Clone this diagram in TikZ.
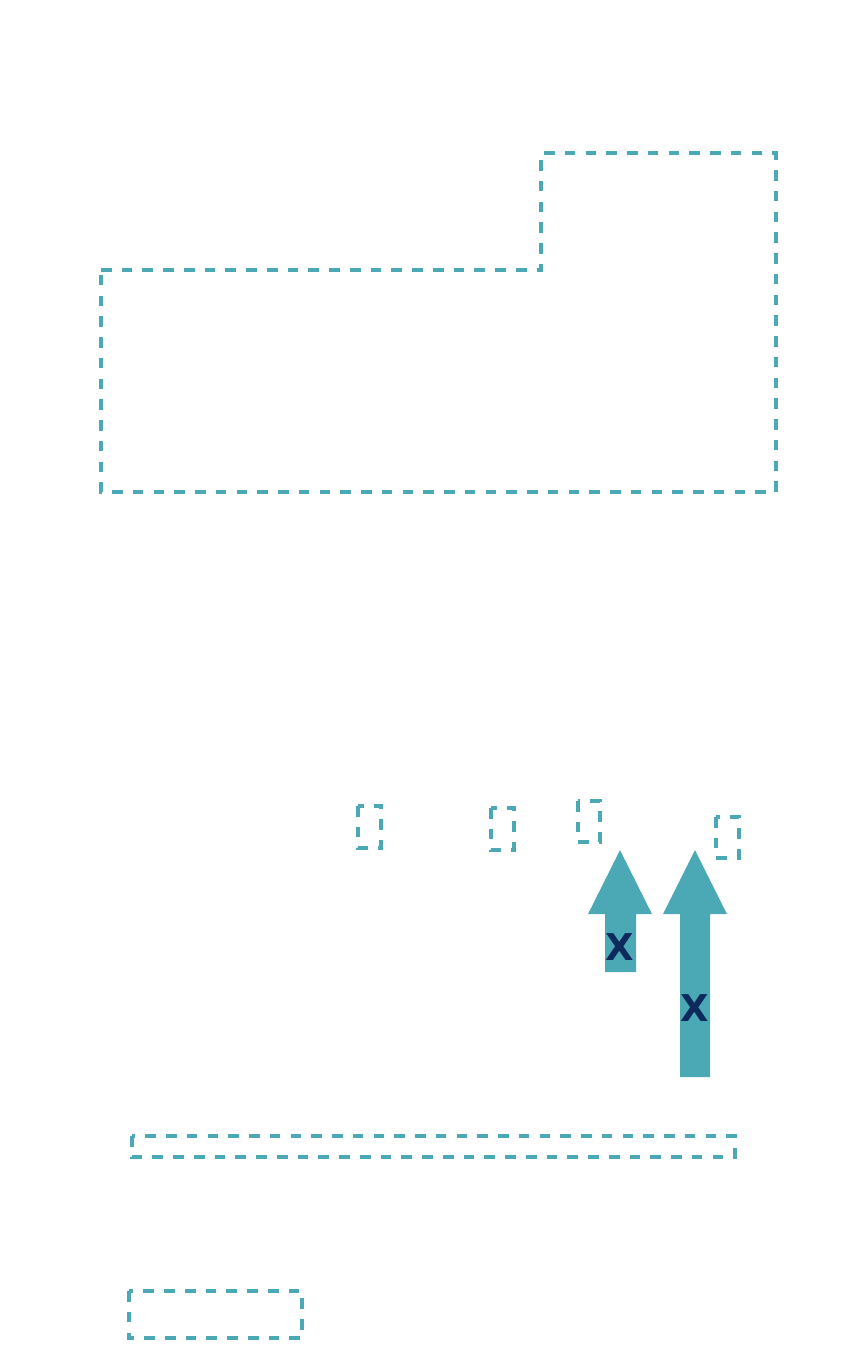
\documentclass[tikz,border=0pt]{standalone}
\usepackage{fontspec}
\setsansfont{DejaVu Sans}
\usepackage{xcolor}
\usepackage{tikz}
\definecolor{teal}{HTML}{4BA8B5}
\definecolor{navy}{HTML}{0D2A5C}

\begin{document}
\begin{tikzpicture}[
  x=0.01cm, y=-0.01cm,
  dashbox/.style={draw=teal, line width=0.95pt, dash pattern=on 3pt off 2.9pt},
  upshaft/.style={fill=teal, draw=none},
  mark label/.style={text=navy, font=\sffamily\bfseries\fontsize{10.5}{12}\selectfont, inner sep=0pt}
]
\useasboundingbox (0,0) rectangle (843,1350);
% outer outline
\draw[dashbox] (101,270) -- (541,270) -- (541,153) -- (776,153) -- (776,492) -- (101,492) -- cycle;
% small boxes
\draw[dashbox] (358,806) rectangle (381,848);
\draw[dashbox] (491,808) rectangle (514,850);
\draw[dashbox] (578,801) rectangle (600,842);
\draw[dashbox] (716,817) rectangle (739,858);
% arrows
\fill[upshaft] (620,850) -- (652,914) -- (636,914) -- (636,972) -- (605,972) -- (605,914) -- (588,914) -- cycle;
\fill[upshaft] (695,850) -- (727,914) -- (710,914) -- (710,1077) -- (680,1077) -- (680,914) -- (663,914) -- cycle;
\node[mark label] (x1) at (620,947) {X};
\node[mark label] (x2) at (695,1008) {X};
% bottom boxes
\draw[dashbox] (132,1136) rectangle (735,1157);
\draw[dashbox] (129,1291) rectangle (302,1338);
\end{tikzpicture}
\end{document}
